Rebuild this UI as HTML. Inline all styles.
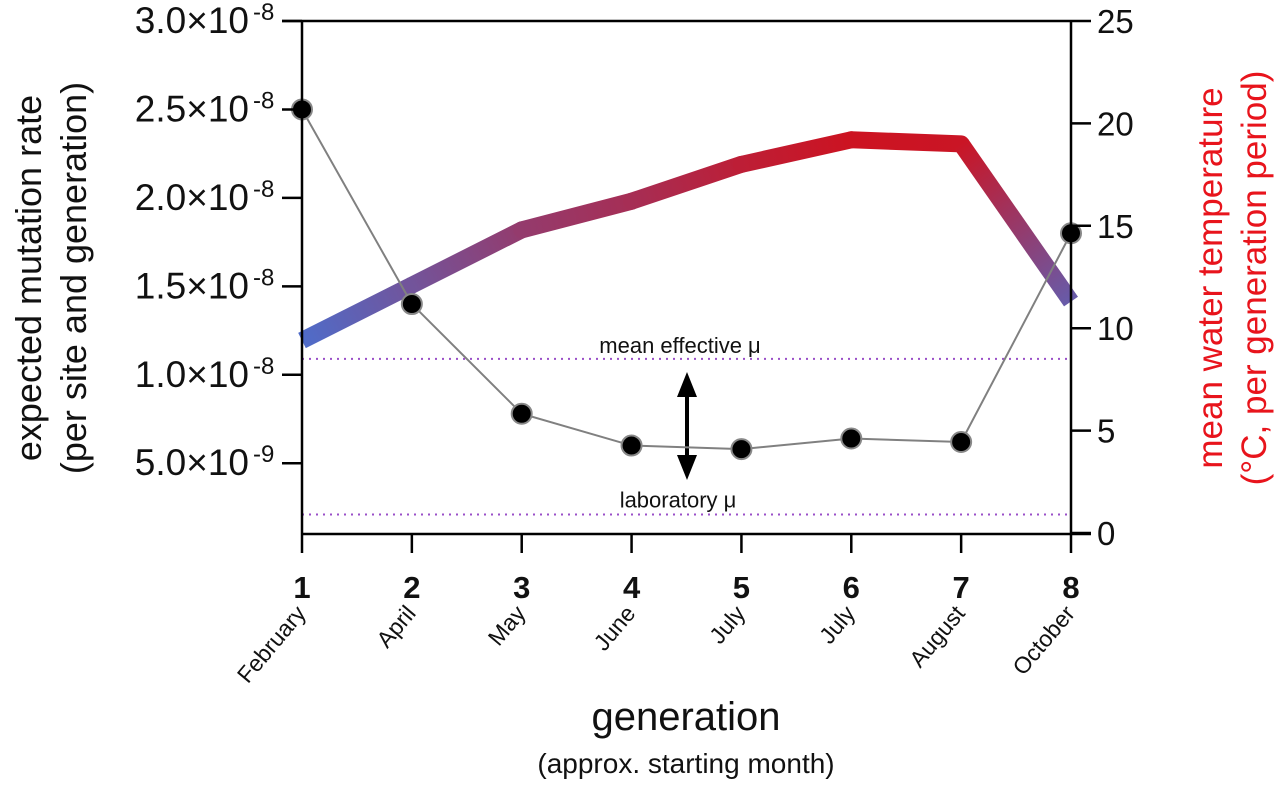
<!DOCTYPE html>
<html><head><meta charset="utf-8"><style>
body{margin:0;background:#fff}
svg{display:block;font-family:"Liberation Sans",Arial,sans-serif}
</style></head><body>
<svg id="chart" width="1280" height="787" viewBox="0 0 1280 787" xmlns="http://www.w3.org/2000/svg">
<defs></defs>
<g id="plot"></g>
</svg>
<script>
const generations = [1,2,3,4,5,6,7,8];
const months = ["February","April","May","June","July","July","August","October"];
const mutationRate = [2.5e-8,1.4e-8,7.8e-9,6.0e-9,5.8e-9,6.4e-9,6.2e-9,1.8e-8];
const temperature = [9.4,12.1,14.8,16.2,18.0,19.2,19.0,11.3];
const leftTicks = [5e-9,1e-8,1.5e-8,2e-8,2.5e-8,3e-8];
const leftTickMant = ["5.0","1.0","1.5","2.0","2.5","3.0"];
const leftTickExp = ["-9","-8","-8","-8","-8","-8"];
const rightTicks = [0,5,10,15,20,25];
const meanEffectiveMu = 1.09e-8;
const laboratoryMu = 2.1e-9;

const svg = document.getElementById('chart');
const g = document.getElementById('plot');
const defs = svg.querySelector('defs');
const NS = 'http://www.w3.org/2000/svg';
const X0=302, X1=1071, YT=21, YB=534;
const xs = gen => X0 + (gen-1)*(X1-X0)/7;
const yl = v => YB - (v-1e-9)/(3e-8-1e-9)*(YB-YT);
const yr = v => 533 - v/25*(533-YT);
function el(tag, attrs, parent){const e=document.createElementNS(NS,tag);for(const k in attrs)e.setAttribute(k,attrs[k]);(parent||g).appendChild(e);return e;}
function col(t){const f=Math.max(0,Math.min(1,(t-9)/(19.5-9)));const a=[74,112,208],b=[208,16,28];return `rgb(${a.map((c,i)=>Math.round(c+(b[i]-c)*f)).join(',')})`;}

let l = el('line',{x1:X0,x2:X1,y1:yl(meanEffectiveMu),y2:yl(meanEffectiveMu),stroke:'#9a4fc8','stroke-width':2,'stroke-dasharray':'2 5'});


l = el('line',{x1:X0,x2:X1,y1:yl(laboratoryMu),y2:yl(laboratoryMu),stroke:'#9a4fc8','stroke-width':2,'stroke-dasharray':'2 5'});


let t = el('text',{x:680,y:yl(meanEffectiveMu)-6,'font-size':22,'text-anchor':'middle',fill:'#111'});
t.textContent='mean effective μ';


t = el('text',{x:678,y:yl(laboratoryMu)-7,'font-size':22,'text-anchor':'middle',fill:'#111'});
t.textContent='laboratory μ';


const arr = el('g',{});


el('line',{x1:687,x2:687,y1:385,y2:468,stroke:'#000','stroke-width':4},arr);
el('polygon',{points:'687,372 677,397 697,397',fill:'#000'},arr);
el('polygon',{points:'687,480 677,455 697,455',fill:'#000'},arr);

for(let i=0;i<generations.length-1;i++){
  const x1=xs(generations[i]),y1=yr(temperature[i]),x2=xs(generations[i+1]),y2=yr(temperature[i+1]);
  const gid='tg'+i;
  const gr=el('linearGradient',{id:gid,gradientUnits:'userSpaceOnUse',x1:x1,y1:y1,x2:x2,y2:y2},defs);
  el('stop',{offset:0,'stop-color':col(temperature[i])},gr);
  el('stop',{offset:1,'stop-color':col(temperature[i+1])},gr);
  const s=el('line',{x1:x1,y1:y1,x2:x2,y2:y2,stroke:`url(#${gid})`,'stroke-width':17,'stroke-linecap':(i>0&&i<generations.length-2)?'round':'butt'});
  
  
}

const pl = el('polyline',{points:generations.map((gn,i)=>xs(gn)+','+yl(mutationRate[i])).join(' '),fill:'none',stroke:'#808080','stroke-width':2});


generations.forEach((gn,i)=>{
  const c=el('circle',{cx:xs(gn),cy:yl(mutationRate[i]),r:10,fill:'#000',stroke:'#888','stroke-width':2});
  
  
});

const ax = el('g',{stroke:'#000','stroke-width':2.5,fill:'none'});


el('line',{x1:X0,x2:X0,y1:YT,y2:YB},ax);
el('line',{x1:X1,x2:X1,y1:YT,y2:YB},ax);
el('line',{x1:X0-20,x2:X1,y1:YT,y2:YT},ax);
el('line',{x1:X0,x2:X1+20,y1:YB,y2:YB},ax);

leftTicks.forEach((v,i)=>{
  el('line',{x1:X0-20,x2:X0,y1:yl(v),y2:yl(v),stroke:'#000','stroke-width':2.5});
  const tx=el('text',{x:249,y:yl(v)+12,'font-size':37,'text-anchor':'end',fill:'#111'});
  tx.textContent=leftTickMant[i]+'×10';
  
  
  const ex=el('text',{x:253,y:yl(v)-1,'font-size':24,fill:'#111'});
  ex.textContent=leftTickExp[i];
  
  
});
rightTicks.forEach(v=>{
  el('line',{x1:X1,x2:X1+20,y1:yr(v),y2:yr(v),stroke:'#000','stroke-width':2.5});
  const tx=el('text',{x:1097,y:yr(v)+12,'font-size':33,fill:'#111'});
  tx.textContent=v;
  
  
});
generations.forEach((gn,i)=>{
  el('line',{x1:xs(gn),x2:xs(gn),y1:YB,y2:553,stroke:'#000','stroke-width':2.5});
  const tx=el('text',{x:xs(gn),y:598,'font-size':31,'font-weight':'bold','text-anchor':'middle',fill:'#111'});
  tx.textContent=gn;
  
  
  const m=el('text',{x:0,y:0,'font-size':23,'text-anchor':'end',fill:'#111',transform:`translate(${xs(gn)+5},${614}) rotate(-50)`});
  m.textContent=months[i];
  
  
});
</script>
<script>
(function(){
const g=document.getElementById('plot');const NS='http://www.w3.org/2000/svg';
function tt(x,y,size,txt,name,extra){const e=document.createElementNS(NS,'text');e.setAttribute('x',x);e.setAttribute('y',y);e.setAttribute('font-size',size);e.setAttribute('text-anchor','middle');for(const k in extra)e.setAttribute(k,extra[k]);e.textContent=txt;


g.appendChild(e);}
tt(686,730,40,'generation','x-axis-title',{fill:'#111'});
tt(686,773,28,'(approx. starting month)','x-axis-subtitle',{fill:'#111'});
tt(0,0,36,'expected mutation rate','left-axis-title',{fill:'#111',transform:'translate(41,278) rotate(-90)'});
tt(0,0,36,'(per site and generation)','left-axis-subtitle',{fill:'#111',transform:'translate(86,278) rotate(-90)'});
tt(0,0,35,'mean water temperature','right-axis-title',{fill:'#e8141c',transform:'translate(1222,278) rotate(-90)'});
tt(0,0,35,'(°C, per generation period)','right-axis-subtitle',{fill:'#e8141c',transform:'translate(1266,278) rotate(-90)'});
})();
</script>
</body></html>
